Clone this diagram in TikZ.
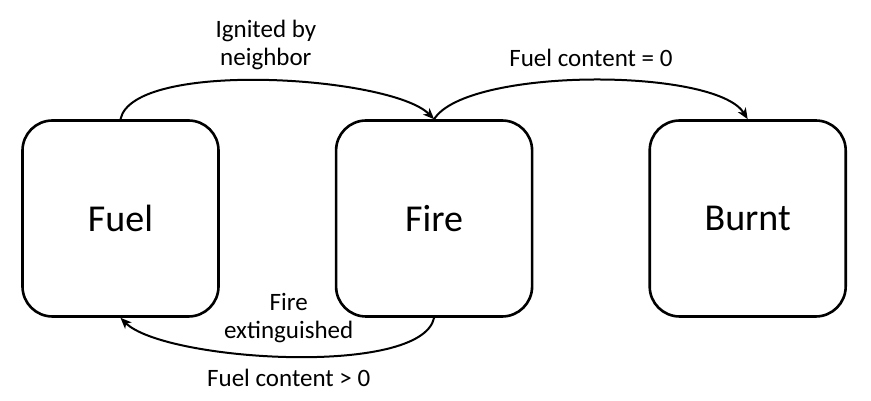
\documentclass[tikz,border=0pt]{standalone}
\usepackage{fontspec}
\setmainfont{Carlito}
\usetikzlibrary{positioning,arrows.meta}

\tikzset{
  statebox/.style={draw,line width=2.6pt,rounded corners=30pt,
    minimum width=196pt,minimum height=196pt,
    font=\fontsize{38pt}{42pt}\selectfont},
  trans/.style={line width=2pt,-{Stealth[length=11pt,width=9pt,inset=3pt]}},
  translabel/.style={align=center,font=\fontsize{25pt}{28pt}\selectfont}
}

\begin{document}
\begin{tikzpicture}[x=1pt,y=1pt]
    \useasboundingbox (0,0) rectangle (871,401);

    \node[statebox] (fuel) at (120.5,182.5) {Fuel};
    \node[statebox,right=115pt of fuel] (fire) {Fire};
    \node[statebox,right=115pt of fire] (burnt) {Burnt};

    % fuel -> fire
    \draw[trans] (fuel.north) to[out=78,in=135,looseness=0.5]
        node[translabel,above=6pt] (ignlabel) {Ignited by\\neighbor} (fire.north);
    % fire -> burnt
    \draw[trans] (fire.north) to[out=58,in=122,looseness=0.5]
        node[translabel,above=9pt] (burnlabel) {Fuel content = 0} (burnt.north);
    % fire -> fuel
    \draw[trans] (fire.south) to[out=-102,in=-45,looseness=0.5]
        node[translabel,above=9pt] (extlabel) {Fire\\extinguished}
        node[translabel,below=8pt] (condlabel) {Fuel content > 0} (fuel.south);
\end{tikzpicture}
\end{document}
